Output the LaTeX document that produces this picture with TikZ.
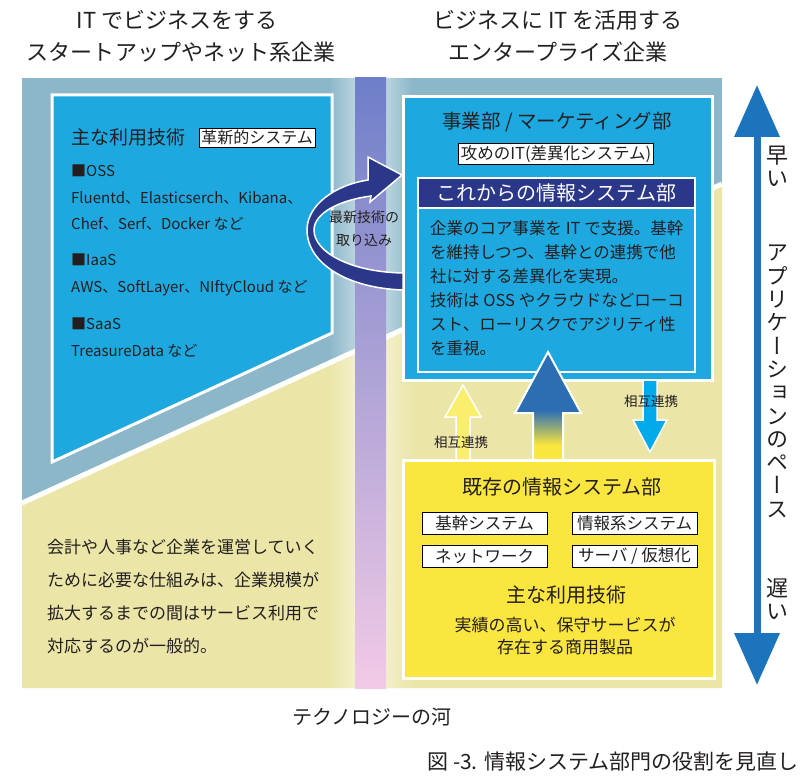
\documentclass[tikz,border=0pt]{standalone}
\usepackage{fontspec}
\setmainfont{Noto Sans CJK JP}
\newfontfamily\vertfont[RawFeature=+vert]{Noto Sans CJK JP}
\usepackage{xcolor}
\usepackage{tikz}
\usetikzlibrary{arrows.meta}
\usetikzlibrary{fadings,shadows,positioning}

\definecolor{panelblue}{RGB}{139,183,201}
\definecolor{paleyellow}{RGB}{235,230,168}
\definecolor{skyblue}{RGB}{30,168,224}
\definecolor{navy}{RGB}{43,56,137}
\definecolor{boxyellow}{RGB}{250,230,62}
\definecolor{lightyellow}{RGB}{250,238,110}
\definecolor{downblue}{RGB}{0,170,235}
\definecolor{paceblue}{RGB}{28,117,188}
\definecolor{arrowblue}{RGB}{44,110,180}
\definecolor{textgray}{RGB}{35,31,32}
\definecolor{rivertop}{RGB}{110,126,200}
\definecolor{rivermid}{RGB}{178,188,228}
\definecolor{riverbot}{RGB}{242,202,230}

\newcommand\fsz[1]{\fontsize{#1}{#1}\selectfont}

\pgfdeclareverticalshading{bigarrow}{100bp}{color(0bp)=(boxyellow); color(32bp)=(boxyellow); color(48bp)=(arrowblue); color(100bp)=(arrowblue)}

\tikzset{
  heading/.style={font=\fsz{22}, text=textgray, inner sep=0pt},
  txt/.style={anchor=base west, text=textgray, inner sep=0pt},
  tagbox/.style={draw=black, fill=white, line width=0.8pt, inner sep=2pt, text=textgray},
  techbox/.style={tagbox, minimum width=125pt, minimum height=22pt, inner sep=0pt, font=\fsz{16.5},
    drop shadow={shadow xshift=1.2pt, shadow yshift=-1.2pt, fill=black!45, opacity=0.6}},
  whiteline/.style={draw=white, line width=3pt},
  pacetext/.style={font=\vertfont\fontsize{22}{23.3}\selectfont, align=center, anchor=north, inner sep=0pt, text=textgray}
}

\begin{document}
\begin{tikzpicture}[x=1pt,y=-1pt]
  \useasboundingbox (0,0) rectangle (808,781);

  % the two headings
  \node[heading] (starthead1) at (177,20) {IT でビジネスをする};
  \node[heading] (starthead2) at (181,52) {スタートアップやネット系企業};
  \node[heading] (enthead1) at (558,20) {ビジネスに IT を活用する};
  \node[heading] (enthead2) at (558,52) {エンタープライズ企業};

  % the background, split along the diagonal
  \fill[panelblue] (22,78) rectangle (722,688);
  \fill[paleyellow] (22,503) -- (722,184) -- (722,688) -- (22,688) -- cycle;
  \draw[white, line width=5pt] (22,503) -- (722,184);

  % the river
  \fill[white, path fading=west, fill opacity=0.4] (328,78) rectangle (355,688);
  \fill[white, path fading=east, fill opacity=0.4] (386,78) rectangle (413,688);
  \shade[top color=rivertop, middle color=rivermid, bottom color=riverbot] (355,78) rectangle (386,688);

  % the box on the left
  \draw[whiteline, fill=skyblue] (52,95) -- (332,95) -- (332,333) -- (52,462) -- cycle;
  \node[txt, font=\fsz{19}] (leftmain) at (71,144) {主な利用技術};
  \node[tagbox, font=\fsz{16}, anchor=west] (innov) at (199,137.5) {革新的システム};
  \node[txt, font=\fsz{15}] (oss) at (71,176) {■OSS};
  \node[txt, font=\fsz{15}] (ossl1) at (71,203) {Fluentd、Elasticserch、Kibana、};
  \node[txt, font=\fsz{15}] (ossl2) at (71,229) {Chef、Serf、Docker など};
  \node[txt, font=\fsz{15}] (iaas) at (71,265) {■IaaS};
  \node[txt, font=\fsz{15}] (iaasl) at (71,292) {AWS、SoftLayer、NIftyCloud など};
  \node[txt, font=\fsz{15}] (saas) at (71,329) {■SaaS};
  \node[txt, font=\fsz{15}] (saasl) at (71,356) {TreasureData など};

  % the box on the right
  \node[whiteline, fill=skyblue, minimum width=309pt, minimum height=283pt, inner sep=0pt] (bizdept) at (557.5,238.5) {};
  \node[font=\fsz{19.5}, text=textgray] (bizname) at (557,122) {事業部 / マーケティング部};
  \node[tagbox, font=\fsz{16.5}] (offense) at (556,154) {攻めのIT(差異化システム)};
  \node[draw=white, line width=2pt, fill=skyblue, minimum width=277pt, minimum height=194pt, inner sep=0pt] (newdept) at (556.5,275) {};
  \node[draw=white, line width=2pt, fill=navy, minimum width=277pt, minimum height=30pt, inner sep=0pt, text=white, font=\fsz{20}] (newhead) at (556.5,193) {これからの情報システム部};
  \foreach \ln [count=\i] in {企業のコア事業を IT で支援。基幹, を維持しつつ、基幹との連携で他, 社に対する差異化を実現。, 技術は OSS やクラウドなどローコ, スト、ローリスクでアジリティ性, を重視。}
    \node[txt, font=\fsz{16.5}] (core\i) at (430,210+24*\i) {\ln};

  % the curved arrow over the river
  \draw[white, line width=1.5pt, fill=navy] (403,290) .. controls (345,288) and (307,262) .. (307,230)
    .. controls (307,205) and (335,185) .. (368,180) -- (368,157) -- (402,175) -- (370,202) -- (371,196)
    .. controls (340,200) and (314,213) .. (314,230) .. controls (314,252) and (350,272) .. (403,273) -- cycle;
  \node[font=\fontsize{14}{23}\selectfont, text=textgray, align=center, inner sep=0pt] (takein) at (364,229) {最新技術の\\取り込み};

  % the yellow box
  \node[whiteline, fill=boxyellow, minimum width=311pt, minimum height=218pt, inner sep=0pt] (olddept) at (558.5,569) {};
  \node[font=\fsz{20}, text=textgray] (oldname) at (562,487) {既存の情報システム部};
  \node[techbox] (coresys) at (484.5,523) {基幹システム};
  \node[techbox] (infosys) at (634.5,523) {情報系システム};
  \node[techbox] (network) at (484.5,556) {ネットワーク};
  \node[techbox] (server) at (634.5,556) {サーバ / 仮想化};
  \node[font=\fsz{20}, text=textgray] (oldtech) at (566,595) {主な利用技術};
  \node[font=\fontsize{17}{22}\selectfont, text=textgray, align=center] (oldtechl) at (565,636) {実績の高い、保守サービスが\\存在する商用製品};

  % the text below the diagonal
  \foreach \ln [count=\i] in {会計や人事など企業を運営していく, ために必要な仕組みは、企業規模が, 拡大するまでの間はサービス利用で, 対応するのが一般的。}
    \node[txt, font=\fsz{17}] (usual\i) at (47,520+33*\i) {\ln};

  % the arrows between the boxes
  \coordinate (uptip) at (463,385);
  \draw[white, line width=1.5pt, fill=lightyellow] (uptip) -- ++(18,32) -- ++(-11,0) -- ++(0,43) -- ++(-14,0) -- ++(0,-43) -- ++(-11,0) -- cycle;
  \node[font=\fsz{13.5}, text=textgray] (mutual1) at (461,442) {相互連携};
  \coordinate (downtip) at (650,452);
  \draw[white, line width=1.5pt, fill=downblue] (downtip) -- ++(-17,-32) -- ++(10,0) -- ++(0,-40) -- ++(14,0) -- ++(0,40) -- ++(10,0) -- cycle;
  \node[font=\fsz{13.5}, text=textgray] (mutual2) at (651,401) {相互連携};
  \coordinate (bigtip) at (548,352);
  \shadedraw[shading=bigarrow, draw=white, line width=2pt] (bigtip) -- ++(33,61) -- ++(-18,0) -- ++(0,47) -- ++(-30,0) -- ++(0,-47) -- ++(-18,0) -- cycle;

  % the pace of the applications
  \coordinate (fast) at (757,85);
  \coordinate (slow) at (757,685);
  \draw[paceblue, line width=7pt, {Triangle[width=44pt,length=52pt]}-{Triangle[width=44pt,length=52pt]}] (fast) -- (slow);
  \node[pacetext] (fastlbl) at (777,146) {早\\い};
  \node[pacetext] (pacelbl) at (777,245) {ア\\プ\\リ\\ケ\\ー\\シ\\ョ\\ン\\の\\ペ\\ー\\ス};
  \node[pacetext] (slowlbl) at (777,578) {遅\\い};

  % the labels below
  \node[font=\fsz{20}, text=textgray] (river) at (372,717) {テクノロジーの河};
  \node[font=\fsz{21}, text=textgray, anchor=east] (caption) at (802,762) {図 -3. 情報システム部門の役割を見直し};
\end{tikzpicture}
\end{document}
